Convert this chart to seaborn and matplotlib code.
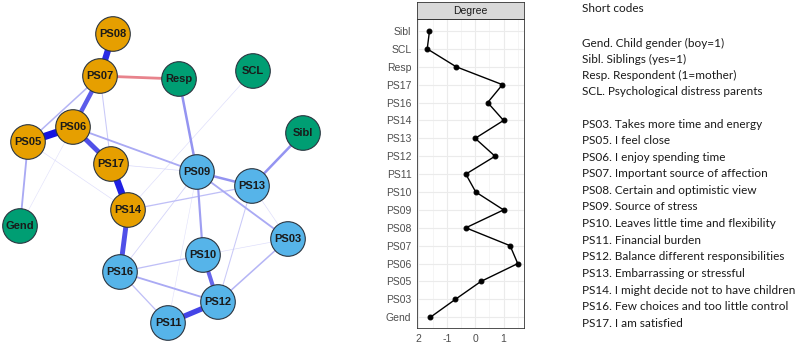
import numpy as np
import pandas as pd
import seaborn as sns
import matplotlib.pyplot as plt
from matplotlib.collections import LineCollection

# --- data -------------------------------------------------------------
codes = ['Sibl', 'SCL', 'Resp', 'PS17', 'PS16', 'PS14', 'PS13', 'PS12', 'PS11',
         'PS10', 'PS09', 'PS08', 'PS07', 'PS06', 'PS05', 'PS03', 'Gend']
degree = [-1.61, -1.69, -0.67, 0.96, 0.44, 1.0, 0.0, 0.70, -0.33,
          0.02, 1.0, -0.33, 1.23, 1.5, 0.2, -0.70, -1.58]

node_names = ['PS08', 'PS07', 'Resp', 'SCL', 'Sibl', 'PS06', 'PS05', 'PS17', 'PS09',
              'PS13', 'PS14', 'Gend', 'PS03', 'PS10', 'PS16', 'PS12', 'PS11']
node_group = ['pos', 'pos', 'cov', 'cov', 'cov', 'pos', 'pos', 'pos', 'neg',
              'neg', 'pos', 'cov', 'neg', 'neg', 'neg', 'neg', 'neg']

edge_from = ['PS08', 'PS07', 'PS07', 'PS07', 'PS07', 'PS06', 'PS06', 'PS06', 'PS05',
             'PS17', 'PS14', 'PS14', 'PS17', 'Resp', 'SCL', 'Sibl', 'PS09', 'PS09',
             'PS09', 'PS09', 'PS10', 'PS12', 'PS16', 'PS16', 'PS16', 'PS03', 'PS03',
             'PS13', 'PS13', 'Gend', 'PS05', 'PS11']
edge_to = ['PS07', 'Resp', 'PS06', 'PS05', 'PS17', 'PS05', 'PS17', 'PS09', 'Gend',
           'PS14', 'PS16', 'PS13', 'PS09', 'PS09', 'PS14', 'PS13', 'PS13', 'PS10',
           'PS03', 'PS16', 'PS12', 'PS11', 'PS10', 'PS12', 'PS11', 'PS12', 'PS10',
           'PS12', 'PS03', 'PS06', 'PS14', 'PS09']
edge_w = [0.9, -0.45, 0.7, 0.3, 0.2, 1.0, 0.75, 0.35, 0.35,
          0.95, 0.75, 0.25, 0.12, 0.45, 0.1, 0.45, 0.45, 0.4,
          0.35, 0.15, 0.65, 0.8, 0.25, 0.35, 0.25, 0.3, 0.1,
          0.2, 0.1, 0.08, 0.1, 0.08]

short_codes = [
    'Gend. Child gender (boy=1)',
    'Sibl. Siblings (yes=1)',
    'Resp. Respondent (1=mother)',
    'SCL. Psychological distress parents',
]
item_codes = [
    'PS03. Takes more time and energy',
    'PS05. I feel close',
    'PS06. I enjoy spending time',
    'PS07. Important source of affection',
    'PS08. Certain and optimistic view',
    'PS09. Source of stress',
    'PS10. Leaves little time and flexibility',
    'PS11. Financial burden',
    'PS12. Balance different responsibilities',
    'PS13. Embarrassing or stressful',
    'PS14. I might decide not to have children',
    'PS16. Few choices and too little control',
    'PS17. I am satisfied',
]

# layout of the network (pixel space of the left panel)
layout = {
    'PS08': (113, 34), 'PS07': (100, 76), 'Resp': (179, 79), 'SCL': (253, 71),
    'Sibl': (303, 133), 'PS06': (73, 127), 'PS05': (28, 142), 'PS17': (111, 164),
    'PS09': (197, 172), 'PS13': (252, 186), 'PS14': (128, 210), 'Gend': (20, 226),
    'PS03': (288, 239), 'PS10': (203, 255), 'PS16': (120, 272), 'PS12': (218, 302),
    'PS11': (168, 323),
}

W, H = 800, 344
fig = plt.figure(figsize=(8, 3.44), dpi=100)
sns.set_style('white')
plt.rcParams['font.family'] = ['Liberation Sans', 'DejaVu Sans']

# --- network -----------------------------------------------------------
axn = fig.add_axes([0, 0, 330 / W, 1])
axn.set_xlim(0, 330)
axn.set_ylim(H, 0)
axn.axis('off')

segs, cols, lws = [], [], []
order = np.argsort(np.abs(edge_w))
for i in order:
    a, b, w = edge_from[i], edge_to[i], edge_w[i]
    segs.append([layout[a], layout[b]])
    s = abs(w)
    if w < 0:
        base = np.array([0.88, 0.35, 0.4])
        k = 0.75
    else:
        base = np.array([0.08, 0.08, 0.88])
        k = 0.07 + 0.93 * s ** 1.1
    cols.append(tuple(np.ones(3) * (1 - k) + base * k))
    lws.append(0.3 + 5.0 * s ** 1.5 if w > 0 else 2.0)
axn.add_collection(LineCollection(segs, colors=cols, linewidths=lws, zorder=1, capstyle='butt'))

nodes = pd.DataFrame({'name': node_names, 'group': node_group})
nodes['x'] = [layout[n][0] for n in node_names]
nodes['y'] = [layout[n][1] for n in node_names]
palette = {'pos': '#E69F00', 'neg': '#56B4E9', 'cov': '#009E73'}
sns.scatterplot(data=nodes, x='x', y='y', hue='group', palette=palette, s=620,
                edgecolor='#2B3540', linewidth=0.8, legend=False, zorder=3, ax=axn)
for _, r in nodes.iterrows():
    axn.text(r.x, r.y, r['name'], ha='center', va='center', fontsize=8,
             fontweight='bold', color='#1A1A1A', zorder=4)
axn.set_xlabel('')
axn.set_ylabel('')

# --- degree plot -------------------------------------------------------
x0, x1 = 417 / W, 524 / W
top, bot = 19 / H, 328 / H
axd = fig.add_axes([x0, 1 - bot, x1 - x0, bot - top])
deg = pd.DataFrame({'code': codes, 'degree': degree})
sns.pointplot(data=deg, x='degree', y='code', order=codes, orient='h', color='black',
              markers='o', markersize=3.5, linewidth=1.0, ax=axd)
axd.set_xlim(-2.05, 1.72)
axd.set_ylim(len(codes) - 0.4, -0.67)
axd.set_xticks([-2, -1, 0, 1])
axd.set_xticklabels(['2', '-1', '0', '1'])
axd.set_xticks([-1.5, -0.5, 0.5, 1.5], minor=True)
axd.grid(True, which='major', color='#EBEBEB', linewidth=0.8)
axd.grid(True, which='minor', axis='x', color='#F2F2F2', linewidth=0.5)
axd.set_axisbelow(True)
for sp in axd.spines.values():
    sp.set_color('#333333')
    sp.set_linewidth(0.6)
axd.tick_params(axis='both', which='major', length=2.5, width=0.6, color='#333333',
                labelsize=7.5, labelcolor='#4D4D4D', pad=1.5)
axd.tick_params(axis='both', which='minor', length=0)
axd.set_xlabel('')
axd.set_ylabel('')

# strip
axs = fig.add_axes([x0, 1 - top, x1 - x0, 17 / H])
axs.set_facecolor('#D9D9D9')
axs.set_xticks([])
axs.set_yticks([])
for sp in axs.spines.values():
    sp.set_color('#333333')
    sp.set_linewidth(0.6)
axs.text(0.5, 0.5, 'Degree', ha='center', va='center', fontsize=7.5, color='#1A1A1A',
         transform=axs.transAxes)

# --- short code text ----------------------------------------------------
tx = 582 / W
fs = 8.5
fig.text(tx, 1 - 8 / H, 'Short codes', fontsize=fs, family='Lato', color='#1A1A1A', va='center')
for i, t in enumerate(short_codes):
    fig.text(tx, 1 - (43 + i * 16.3) / H, t, fontsize=fs, family='Lato',
             color='#1A1A1A', va='center')
for i, t in enumerate(item_codes):
    fig.text(tx, 1 - (124 + i * 16.6) / H, t, fontsize=fs, family='Lato',
             color='#1A1A1A', va='center')

fig.savefig('out.png', dpi=100)
